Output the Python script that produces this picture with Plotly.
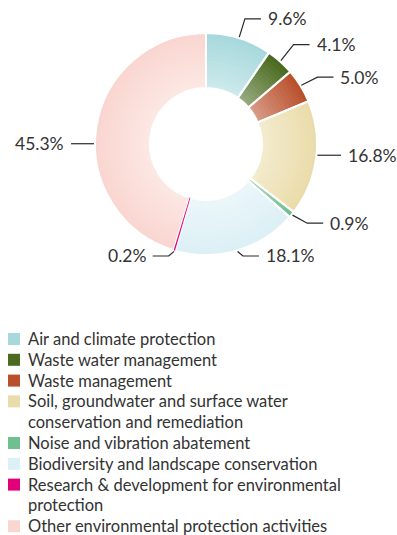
import math
import textwrap
import plotly.graph_objects as go

# ---------------- data ----------------
categories = [
    "Air and climate protection",
    "Waste water management",
    "Waste management",
    "Soil, groundwater and surface water conservation and remediation",
    "Noise and vibration abatement",
    "Biodiversity and landscape conservation",
    "Research & development for environmental protection",
    "Other environmental protection activities",
]
shares = [9.6, 4.1, 5.0, 16.8, 0.9, 18.1, 0.2, 45.3]
value_labels = ["9.6%", "4.1%", "5.0%", "16.8%", "0.9%", "18.1%", "0.2%", "45.3%"]

# ---------------- style ----------------
colors = ["#a7d9dc", "#4a6a1f", "#b9502c", "#eadcaa",
          "#6fbf90", "#dcf0f5", "#e2007a", "#fad6d0"]
label_dy = [0, -2, 2, -6, -4, 0, 0, 19]   # small label nudges (px)

W, H = 397, 535
CX, CY, R, R_IN = 206, 144, 111, 56
FONT = "Lato"
TXT = "#333333"
LABEL_SIZE = 17.5
LEG_SIZE = 16.5
LEG_X_SQ, LEG_X_TXT, LEG_Y0, LEG_STEP = 8, 26, 339, 20.8


def mix(hx, f):
    hx = hx.lstrip("#")
    r, g, b = (int(hx[i:i + 2], 16) for i in (0, 2, 4))
    r, g, b = (round(c + (255 - c) * f) for c in (r, g, b))
    return f"rgb({r},{g},{b})"


def px(x):
    return x / W


def py(y):
    return 1 - y / H


def ring(rk, marker):
    return go.Pie(
        labels=categories, values=shares, sort=False, direction="clockwise",
        rotation=0, hole=R_IN / rk,
        domain=dict(x=[px(CX - rk), px(CX + rk)], y=[py(CY + rk), py(CY - rk)]),
        marker=marker, textinfo="none", hoverinfo="skip", showlegend=False,
    )


fig = go.Figure()

# gradient-like ring layers (lighter toward the hole)
N = 14
for k in range(N):
    rk = R - k * (R - R_IN) / N
    f = 0.42 * k / (N - 1)
    fig.add_trace(ring(rk, dict(colors=[mix(c, f) for c in colors], line=dict(width=0))))

# white separators on top
fig.add_trace(ring(R, dict(colors=["rgba(0,0,0,0)"] * len(shares),
                           line=dict(color="white", width=2))))

# keep the tiniest slices visible above the separators
tiny = [c if v < 0.5 else "rgba(0,0,0,0)" for c, v in zip(colors, shares)]
fig.add_trace(ring(R, dict(colors=tiny, line=dict(width=0))))

shapes = []
annotations = []
total = sum(shares)
cum = 0.0
for i, v in enumerate(shares):
    th = 2 * math.pi * (cum + v / 2) / total
    cum += v
    s, c = math.sin(th), math.cos(th)
    side = 1 if s >= 0 else -1
    if abs(c) < 0.2:
        ey = CY - (R + 20) * c + label_dy[i]
        sx = CX + side * math.sqrt(max((R + 1) ** 2 - (ey - CY) ** 2, 0))
        hx = CX + side * (R + 24)
        path = f"M{px(sx)},{py(ey)} L{px(hx)},{py(ey)}"
    else:
        sx, sy = CX + (R + 1) * s, CY - (R + 1) * c
        ex, ey = CX + (R + 20) * s, CY - (R + 20) * c
        ey = min(ey, 256) + label_dy[i]
        hx = ex + side * 16
        path = f"M{px(sx)},{py(sy)} L{px(ex)},{py(ey)} L{px(hx)},{py(ey)}"
    shapes.append(dict(type="path", xref="paper", yref="paper", path=path,
                       line=dict(color="#2a2a2a", width=1.2)))
    annotations.append(dict(
        x=px(hx + side * 5), y=py(ey), xref="paper", yref="paper",
        text=value_labels[i], showarrow=False,
        xanchor="left" if side > 0 else "right", yanchor="middle",
        font=dict(family=FONT, size=LABEL_SIZE, color=TXT),
    ))

# legend (squares + text)
line_i = 0
for i, name in enumerate(categories):
    lines = textwrap.wrap(name, 41)
    yc = LEG_Y0 + line_i * LEG_STEP
    shapes.append(dict(type="rect", xref="paper", yref="paper",
                       x0=px(LEG_X_SQ), x1=px(LEG_X_SQ + 12),
                       y0=py(yc + 6), y1=py(yc - 6),
                       fillcolor=colors[i], line=dict(width=0)))
    for j, ln in enumerate(lines):
        annotations.append(dict(
            x=px(LEG_X_TXT), y=py(yc + j * LEG_STEP), xref="paper", yref="paper",
            text=ln, showarrow=False, xanchor="left", yanchor="middle",
            font=dict(family=FONT, size=LEG_SIZE, color=TXT),
        ))
    line_i += len(lines)

fig.update_layout(
    width=W, height=H, margin=dict(l=0, r=0, t=0, b=0),
    paper_bgcolor="white", plot_bgcolor="white",
    showlegend=False, shapes=shapes, annotations=annotations,
)

fig.write_html("out.html")
